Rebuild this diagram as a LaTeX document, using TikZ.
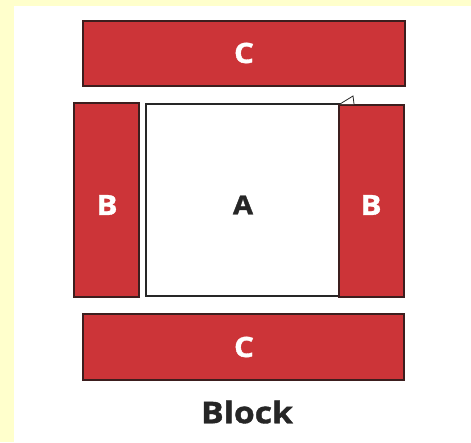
\documentclass[tikz,border=0pt]{standalone}
\usepackage{fontspec}
\setmainfont{Open Sans}
\newfontfamily\heavyfont{Open Sans Bold}[FakeBold=1.2]
\definecolor{bgyellow}{RGB}{255,255,204}
\definecolor{stripred}{RGB}{204,52,56}
\definecolor{edgedark}{RGB}{60,30,30}
\newcommand{\widetext}[1]{\scalebox{1.12}[1]{#1}}
\begin{document}
\begin{tikzpicture}[x=1pt,y=-1pt,
  strip/.style={draw=edgedark,line width=1.2pt,fill=stripred},
  square/.style={draw=black!85,line width=1.2pt,fill=white},
  whitelbl/.style={text=white,font=\heavyfont\fontsize{28}{28}\selectfont},
  darklbl/.style={text=black!85,font=\heavyfont\fontsize{26}{26}\selectfont}]
\useasboundingbox (0,0) rectangle (471,442);
\fill[bgyellow] (0,0) rectangle (471,442);
\fill[white] (14,6) rectangle (471,442);
% strips
\draw[strip] (83,21) rectangle (405,86);
\draw[strip] (74,103) rectangle (139,297);
\draw[square] (146,104) rectangle (340,296);
\draw[strip] (339,105) rectangle (404,297);
\draw[square,line width=0.8pt] (340,104) -- (353,96) -- (354,104);
\draw[strip] (83,314) rectangle (404,380);
% labels
\node[whitelbl] (c1) at (244,53) {\widetext{C}};
\node[whitelbl] (b1) at (107,205) {\widetext{B}};
\node[darklbl] (a) at (243,205) {\widetext{A}};
\node[whitelbl] (b2) at (371,205) {\widetext{B}};
\node[whitelbl] (c2) at (244,347) {\widetext{C}};
\node[text=black!85,font=\heavyfont\fontsize{30}{30}\selectfont] (block) at (247,412) {\widetext{Block}};
\end{tikzpicture}
\end{document}
